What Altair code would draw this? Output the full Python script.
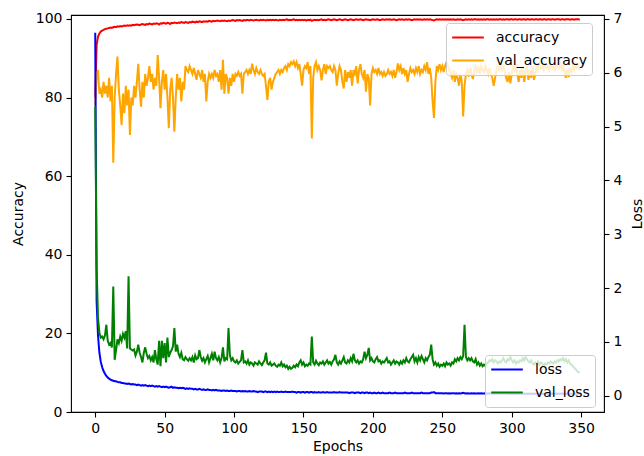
import altair as alt
import pandas as pd

epochs = list(range(350))

accuracy = [
    80.0, 93.4, 95.5, 96.3, 96.8, 97.0, 97.2, 97.4, 97.5, 97.6,
    97.7, 97.8, 97.7, 97.9, 98.0, 97.9, 98.1, 98.0, 98.2, 98.1,
    98.2, 98.3, 98.2, 98.4, 98.3, 98.4, 98.3, 98.5, 98.4, 98.5,
    98.6, 98.5, 98.4, 98.6, 98.7, 98.6, 98.5, 98.7, 98.6, 98.8,
    98.7, 98.6, 98.8, 98.7, 98.9, 98.8, 98.6, 98.9, 98.8, 99.0,
    98.9, 98.8, 99.0, 98.9, 98.7, 99.0, 98.9, 99.1, 99.0, 98.9,
    99.1, 99.0, 99.2, 99.1, 99.0, 99.2, 99.1, 99.0, 99.2, 99.1,
    99.3, 99.2, 99.1, 99.3, 99.2, 99.4, 99.3, 99.2, 99.4, 99.3,
    99.4, 99.3, 99.5, 99.4, 99.3, 99.5, 99.4, 99.5, 99.6, 99.5,
    99.4, 99.6, 99.5, 99.6, 99.5, 99.4, 99.6, 99.5, 99.6, 99.7,
    99.6, 99.5, 99.7, 99.6, 99.7, 99.6, 99.5, 99.7, 99.6, 99.7,
    99.7, 99.6, 99.8, 99.7, 99.6, 99.7, 99.8, 99.7, 99.6, 99.8,
    99.7, 99.8, 99.7, 99.6, 99.8, 99.7, 99.8, 99.7, 99.8, 99.7,
    99.8, 99.7, 99.6, 99.8, 99.7, 99.8, 99.7, 99.8, 99.9, 99.7,
    99.8, 99.7, 99.8, 99.9, 99.7, 99.8, 99.7, 99.8, 99.7, 99.8,
    99.7, 99.8, 99.6, 99.8, 99.7, 99.8, 99.5, 99.7, 99.8, 99.7,
    99.8, 99.7, 99.8, 99.9, 99.7, 99.8, 99.7, 99.8, 99.9, 99.8,
    99.7, 99.8, 99.9, 99.8, 99.7, 99.8, 99.9, 99.8, 99.7, 99.8,
    99.9, 99.8, 99.7, 99.8, 99.9, 99.8, 99.7, 99.8, 99.9, 99.8,
    99.8, 99.9, 99.8, 99.7, 99.8, 99.9, 99.8, 99.8, 99.7, 99.8,
    99.9, 99.8, 99.8, 99.9, 99.8, 99.7, 99.8, 99.9, 99.8, 99.8,
    99.9, 99.8, 99.9, 99.8, 99.8, 99.9, 99.8, 99.7, 99.8, 99.9,
    99.8, 99.9, 99.8, 99.8, 99.9, 99.8, 99.9, 99.8, 99.7, 99.8,
    99.9, 99.8, 99.9, 99.8, 99.9, 99.8, 99.8, 99.9, 99.8, 99.9,
    99.8, 99.9, 99.8, 99.7, 99.6, 99.8, 99.9, 99.8, 99.9, 99.8,
    99.9, 99.8, 99.9, 99.8, 99.9, 99.8, 99.9, 99.8, 99.9, 99.8,
    99.8, 99.9, 99.8, 99.9, 99.8, 99.7, 99.8, 99.9, 99.8, 99.9,
    99.8, 99.9, 99.8, 99.9, 99.9, 99.8, 99.9, 99.8, 99.9, 99.8,
    99.9, 99.8, 99.9, 99.9, 99.8, 99.9, 99.8, 99.9, 99.8, 99.9,
    99.8, 99.9, 99.9, 99.8, 99.9, 99.8, 99.9, 99.9, 99.8, 99.9,
    99.9, 99.8, 99.9, 99.9, 99.8, 99.9, 99.9, 99.8, 99.9, 99.9,
    99.8, 99.9, 99.9, 99.8, 99.9, 99.9, 99.8, 99.9, 99.9, 99.8,
    99.9, 99.9, 99.8, 99.9, 99.9, 99.8, 99.9, 99.9, 99.8, 99.9,
    99.9, 99.8, 99.9, 99.9, 99.9, 99.8, 99.9, 99.9, 99.8, 99.9,
    99.9, 99.9, 99.8, 99.9, 99.9, 99.8, 99.9, 99.9, 99.9, 99.8,
]

val_accuracy = [
    78.0, 86.0, 87.0, 81.0, 82.0, 80.0, 84.0, 81.0, 83.0, 80.0,
    85.0, 79.0, 83.0, 63.4, 80.0, 86.0, 90.4, 82.0, 78.0, 73.0,
    81.0, 76.0, 83.0, 78.0, 82.0, 70.5, 80.0, 78.0, 83.0, 80.0,
    84.0, 88.6, 82.0, 77.7, 84.0, 80.0, 86.0, 83.0, 85.0, 88.0,
    84.0, 86.0, 82.0, 85.0, 83.0, 90.8, 85.0, 77.3, 84.0, 87.0,
    82.0, 86.0, 80.0, 72.2, 82.0, 85.0, 80.0, 71.3, 80.0, 86.0,
    82.0, 85.0, 79.0, 84.0, 82.0, 88.0, 87.0, 86.5, 88.0, 87.0,
    86.0, 87.5, 86.0, 84.5, 87.0, 86.0, 85.0, 87.0, 84.0, 86.0,
    79.0, 84.0, 86.0, 85.0, 86.0, 85.0, 87.0, 85.5, 86.0, 84.0,
    87.0, 82.0, 89.6, 81.0, 86.0, 85.0, 81.0, 85.0, 83.0, 86.0,
    84.0, 86.0, 85.5, 86.5, 85.5, 86.0, 81.0, 86.0, 86.5, 87.0,
    86.0, 87.0, 86.0, 88.6, 87.0, 86.0, 87.5, 86.5, 86.0, 87.0,
    86.0, 85.5, 86.0, 83.0, 79.4, 84.0, 85.0, 82.0, 84.0, 85.0,
    86.0, 86.5, 87.0, 86.0, 87.0, 86.5, 87.5, 88.0, 87.0, 88.5,
    88.0, 89.0, 88.5, 89.2, 88.0, 89.0, 87.5, 88.5, 86.0, 83.0,
    87.0, 88.0, 87.5, 89.0, 86.0, 88.0, 69.6, 85.0, 88.0, 89.0,
    87.0, 88.0, 87.0, 84.4, 87.0, 88.5, 86.0, 88.0, 87.5, 88.0,
    87.0, 86.5, 88.0, 87.0, 83.0, 86.0, 88.0, 87.0, 84.0, 82.3,
    87.0, 84.0, 86.5, 85.0, 87.0, 83.0, 87.0, 86.0, 88.0, 83.6,
    87.0, 88.5, 86.0, 85.0, 87.0, 81.5, 86.0, 85.0, 78.0, 86.0,
    87.5, 86.5, 87.0, 86.0, 87.5, 86.0, 86.5, 85.5, 86.5, 85.5,
    86.0, 87.0, 86.0, 86.5, 85.5, 87.0, 85.0, 86.5, 88.7, 87.0,
    88.0, 86.0, 87.5, 86.0, 87.0, 84.0, 86.0, 87.5, 86.5, 87.0,
    86.0, 87.5, 86.5, 88.0, 86.0, 87.0, 86.5, 88.0, 87.0, 89.0,
    86.0, 87.5, 85.0, 79.0, 74.8, 84.0, 88.0, 87.0, 88.5, 87.0,
    88.0, 86.5, 88.0, 89.0, 88.0, 87.0, 86.0, 85.0, 87.0, 84.0,
    86.0, 85.0, 83.0, 86.0, 84.0, 75.2, 83.0, 86.0, 87.0, 85.3,
    87.5, 86.0, 84.7, 87.0, 88.0, 86.5, 87.5, 86.0, 88.0, 87.0,
    86.5, 88.0, 87.0, 86.0, 87.5, 86.0, 85.0, 83.0, 85.0, 87.0,
    88.0, 87.0, 88.5, 87.0, 88.0, 86.5, 85.0, 84.0, 86.5, 83.6,
    86.0, 88.0, 87.0, 88.5, 86.0, 84.0, 87.0, 85.0, 88.0, 84.0,
    86.5, 88.0, 84.5, 87.0, 85.0, 88.0, 84.5, 86.0, 88.0, 87.0,
    88.5, 87.5, 88.0, 87.0, 88.5, 87.5, 88.0, 87.0, 88.5, 87.5,
    88.0, 87.0, 88.5, 88.0, 87.5, 88.5, 87.0, 88.0, 86.5, 85.0,
    87.0, 85.2, 87.5, 86.5, 88.0, 87.0, 88.5, 87.5, 88.0, 87.0,
]

loss = [
    6.74, 1.75, 1.12, 0.80, 0.63, 0.53, 0.46, 0.41, 0.37, 0.34,
    0.32, 0.30, 0.29, 0.28, 0.27, 0.27, 0.26, 0.25, 0.25, 0.24,
    0.24, 0.23, 0.23, 0.22, 0.23, 0.22, 0.21, 0.22, 0.21, 0.21,
    0.20, 0.21, 0.20, 0.19, 0.20, 0.19, 0.20, 0.19, 0.18, 0.19,
    0.18, 0.19, 0.18, 0.17, 0.18, 0.17, 0.18, 0.17, 0.16, 0.17,
    0.16, 0.17, 0.16, 0.15, 0.16, 0.17, 0.15, 0.16, 0.15, 0.15,
    0.14, 0.15, 0.14, 0.15, 0.14, 0.13, 0.14, 0.13, 0.14, 0.13,
    0.13, 0.12, 0.13, 0.12, 0.12, 0.13, 0.12, 0.11, 0.12, 0.11,
    0.11, 0.12, 0.11, 0.11, 0.10, 0.11, 0.10, 0.11, 0.10, 0.10,
    0.10, 0.09, 0.10, 0.10, 0.09, 0.10, 0.09, 0.09, 0.10, 0.09,
    0.09, 0.09, 0.08, 0.09, 0.09, 0.08, 0.09, 0.08, 0.09, 0.08,
    0.08, 0.09, 0.08, 0.08, 0.09, 0.08, 0.08, 0.07, 0.08, 0.08,
    0.08, 0.07, 0.08, 0.08, 0.07, 0.08, 0.07, 0.08, 0.07, 0.08,
    0.07, 0.08, 0.07, 0.07, 0.08, 0.07, 0.07, 0.08, 0.07, 0.07,
    0.07, 0.07, 0.08, 0.07, 0.07, 0.06, 0.07, 0.07, 0.06, 0.07,
    0.07, 0.06, 0.07, 0.07, 0.06, 0.07, 0.07, 0.06, 0.07, 0.06,
    0.06, 0.07, 0.06, 0.06, 0.07, 0.06, 0.06, 0.07, 0.06, 0.06,
    0.06, 0.06, 0.07, 0.06, 0.06, 0.06, 0.07, 0.06, 0.06, 0.06,
    0.06, 0.06, 0.06, 0.05, 0.06, 0.06, 0.06, 0.05, 0.06, 0.06,
    0.06, 0.05, 0.06, 0.06, 0.05, 0.06, 0.06, 0.05, 0.06, 0.05,
    0.05, 0.06, 0.05, 0.05, 0.06, 0.05, 0.05, 0.06, 0.05, 0.05,
    0.05, 0.05, 0.06, 0.05, 0.05, 0.05, 0.06, 0.05, 0.05, 0.05,
    0.05, 0.05, 0.05, 0.06, 0.05, 0.05, 0.05, 0.05, 0.06, 0.05,
    0.05, 0.05, 0.05, 0.05, 0.05, 0.06, 0.05, 0.05, 0.05, 0.05,
    0.05, 0.05, 0.06, 0.06, 0.07, 0.05, 0.05, 0.05, 0.05, 0.05,
    0.05, 0.045, 0.05, 0.05, 0.045, 0.05, 0.045, 0.05, 0.05, 0.045,
    0.05, 0.045, 0.05, 0.045, 0.05, 0.055, 0.05, 0.045, 0.05, 0.045,
    0.045, 0.05, 0.045, 0.05, 0.045, 0.045, 0.05, 0.045, 0.05, 0.045,
    0.045, 0.05, 0.045, 0.045, 0.05, 0.045, 0.045, 0.04, 0.045, 0.045,
    0.045, 0.04, 0.045, 0.045, 0.04, 0.045, 0.045, 0.04, 0.045, 0.04,
    0.045, 0.04, 0.045, 0.04, 0.045, 0.04, 0.04, 0.045, 0.04, 0.045,
    0.04, 0.045, 0.04, 0.04, 0.045, 0.04, 0.04, 0.045, 0.04, 0.04,
    0.04, 0.045, 0.04, 0.04, 0.04, 0.045, 0.04, 0.04, 0.045, 0.04,
    0.04, 0.04, 0.045, 0.04, 0.04, 0.04, 0.045, 0.04, 0.04, 0.04,
    0.04, 0.045, 0.04, 0.04, 0.04, 0.04, 0.045, 0.04, 0.04, 0.04,
]

val_loss = [
    5.37, 2.40, 1.45, 1.17, 1.08, 1.10, 1.05, 1.12, 1.32, 1.02,
    0.95, 0.98, 0.90, 2.03, 0.67, 0.85, 1.05, 0.98, 1.10, 1.02,
    1.15, 1.08, 1.20, 0.88, 2.22, 0.88, 0.86, 0.84, 0.86, 0.75,
    0.82, 0.95, 0.80, 0.72, 0.62, 0.80, 0.90, 0.78, 0.70, 0.74,
    0.66, 0.72, 0.62, 0.85, 0.68, 0.58, 1.02, 0.55, 1.02, 0.70,
    0.98, 0.62, 1.08, 0.72, 0.80, 0.85, 0.92, 1.26, 0.82, 0.95,
    0.78, 0.72, 0.80, 0.68, 0.66, 0.72, 0.68, 0.65, 0.70, 0.66,
    0.72, 0.62, 0.75, 0.68, 0.70, 0.85, 0.72, 0.65, 0.70, 0.62,
    0.68, 0.74, 0.62, 0.70, 0.78, 0.66, 0.82, 0.70, 0.66, 0.72,
    0.62, 0.70, 0.90, 0.64, 0.70, 0.68, 1.26, 0.75, 0.66, 0.70,
    0.64, 0.62, 0.66, 0.60, 0.63, 0.66, 0.85, 0.62, 0.64, 0.60,
    0.66, 0.58, 0.62, 0.60, 0.56, 0.62, 0.60, 0.58, 0.64, 0.60,
    0.57, 0.62, 0.66, 0.80, 0.60, 0.58, 0.62, 0.56, 0.58, 0.60,
    0.56, 0.54, 0.58, 0.56, 0.62, 0.55, 0.58, 0.53, 0.56, 0.50,
    0.54, 0.50, 0.52, 0.56, 0.53, 0.58, 0.55, 0.62, 0.66, 0.58,
    0.62, 0.55, 0.58, 0.56, 0.60, 0.58, 1.10, 0.62, 0.58, 0.65,
    0.60, 0.57, 0.62, 0.60, 0.64, 0.58, 0.62, 0.66, 0.60, 0.63,
    0.58, 0.64, 0.68, 0.76, 0.62, 0.58, 0.64, 0.60, 0.66, 0.72,
    0.62, 0.60, 0.66, 0.62, 0.70, 0.64, 0.78, 0.66, 0.62, 0.66,
    0.60, 0.64, 0.62, 0.68, 0.82, 0.70, 0.76, 0.89, 0.66, 0.70,
    0.64, 0.62, 0.68, 0.72, 0.64, 0.66, 0.60, 0.64, 0.62, 0.66,
    0.70, 0.62, 0.64, 0.58, 0.62, 0.66, 0.60, 0.64, 0.62, 0.58,
    0.64, 0.60, 0.66, 0.62, 0.70, 0.64, 0.62, 0.68, 0.72, 0.76,
    0.64, 0.70, 0.62, 0.72, 0.66, 0.74, 0.68, 0.62, 0.70, 0.66,
    0.72, 0.76, 0.95, 0.68, 0.58, 0.62, 0.56, 0.60, 0.54, 0.58,
    0.56, 0.60, 0.55, 0.62, 0.58, 0.60, 0.56, 0.62, 0.60, 0.68,
    0.64, 0.70, 0.66, 0.72, 0.68, 0.74, 1.32, 0.72, 0.66, 0.70,
    0.66, 0.70, 0.64, 0.62, 0.68, 0.58, 0.62, 0.56, 0.60, 0.55,
    0.58, 0.56, 0.60, 0.62, 0.66, 0.64, 0.68, 0.62, 0.66, 0.64,
    0.60, 0.64, 0.62, 0.66, 0.70, 0.64, 0.62, 0.68, 0.66, 0.72,
    0.66, 0.62, 0.66, 0.60, 0.64, 0.62, 0.66, 0.64, 0.70, 0.66,
    0.72, 0.68, 0.64, 0.62, 0.66, 0.60, 0.58, 0.62, 0.60, 0.64,
    0.58, 0.62, 0.60, 0.56, 0.60, 0.58, 0.62, 0.60, 0.64, 0.62,
    0.60, 0.64, 0.62, 0.66, 0.64, 0.68, 0.66, 0.70, 0.64, 0.68,
    0.62, 0.66, 0.60, 0.58, 0.55, 0.52, 0.50, 0.46, 0.44, 0.43,
]

for arr in (accuracy, val_accuracy, loss, val_loss):
    assert len(arr) == len(epochs), len(arr)

acc_names = ["accuracy", "val_accuracy"]
acc_colors = ["red", "orange"]
loss_names = ["loss", "val_loss"]
loss_colors = ["blue", "green"]

df_acc = pd.DataFrame({
    "epoch": epochs + epochs,
    "value": accuracy + val_accuracy,
    "series": [acc_names[0]] * len(epochs) + [acc_names[1]] * len(epochs),
})
df_loss = pd.DataFrame({
    "epoch": epochs + epochs,
    "value": loss + val_loss,
    "series": [loss_names[0]] * len(epochs) + [loss_names[1]] * len(epochs),
})

FONT = "DejaVu Sans"

x_enc = alt.X(
    "epoch:Q",
    scale=alt.Scale(domain=[-17.45, 366.45], nice=False, zero=False),
    axis=alt.Axis(title="Epochs", values=[0, 50, 100, 150, 200, 250, 300, 350],
                  titlePadding=4),
)

legend_common = dict(
    orient="none",
    symbolType="stroke",
    symbolSize=1000,
    symbolStrokeWidth=2,
    clipHeight=19,
    rowPadding=4,
    padding=5,
    labelFont=FONT,
    labelFontSize=14,
    labelColor="black",
    labelOffset=11,
    fillColor="rgba(255,255,255,0.8)",
    strokeColor="#cccccc",
    cornerRadius=3,
)

left = alt.Chart(df_acc).mark_line(strokeWidth=2, clip=True).encode(
    x=x_enc,
    y=alt.Y(
        "value:Q",
        scale=alt.Scale(domain=[0, 101], nice=False, zero=False),
        axis=alt.Axis(title="Accuracy", orient="left",
                      values=[0, 20, 40, 60, 80, 100], titlePadding=10),
    ),
    color=alt.Color(
        "series:N",
        title=None,
        scale=alt.Scale(domain=acc_names, range=acc_colors),
        legend=alt.Legend(legendX=375, legendY=8, **legend_common),
    ),
)

right = alt.Chart(df_loss).mark_line(strokeWidth=2, clip=True).encode(
    x=x_enc,
    y=alt.Y(
        "value:Q",
        scale=alt.Scale(domain=[-0.30, 7.07], nice=False, zero=False),
        axis=alt.Axis(title="Loss", orient="right",
                      values=[0, 1, 2, 3, 4, 5, 6, 7], titleAngle=270,
                      titlePadding=23),
    ),
    color=alt.Color(
        "series:N",
        title=None,
        scale=alt.Scale(domain=loss_names, range=loss_colors),
        legend=alt.Legend(legendX=414, legendY=340, **legend_common),
    ),
)

chart = (
    alt.layer(left, right)
    .resolve_scale(y="independent", color="independent")
    .properties(
        width=533,
        height=397,
        autosize=alt.AutoSizeParams(type="none"),
        padding={"left": 71, "top": 15, "right": 40, "bottom": 44},
        background="white",
    )
    .configure_view(stroke="black", strokeWidth=1.1)
    .configure_axis(
        grid=False,
        domain=False,
        labelFont=FONT,
        labelFontSize=14,
        labelColor="black",
        titleFont=FONT,
        titleFontSize=14,
        titleFontWeight="normal",
        titleColor="black",
        tickColor="black",
        tickSize=5,
        tickWidth=1.1,
        labelPadding=4,
    )
)

chart.save("out.html", embed_options={"renderer": "svg", "actions": False})
